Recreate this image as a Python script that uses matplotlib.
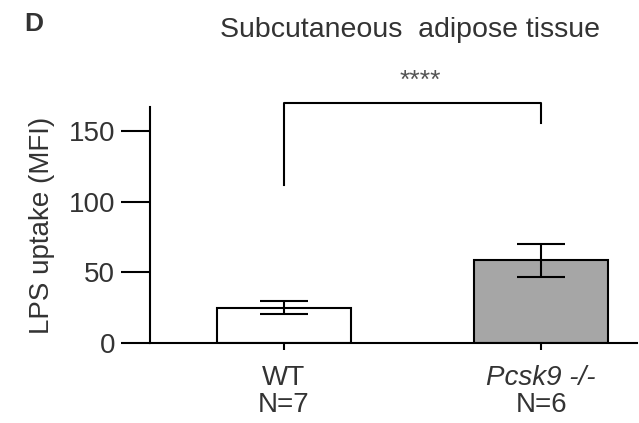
import numpy as np
import matplotlib.pyplot as plt

plt.rcParams['font.family'] = ['Liberation Sans', 'DejaVu Sans']

groups = ['WT', 'Pcsk9 -/-']
n_mice = [7, 6]
means = [25.0, 58.5]
sems = [4.5, 11.7]
bar_colors = ['white', '#a6a6a6']
bracket = (111.7, 170.0, 155.6)   # left foot, top, right foot
stars = '****'

fig = plt.figure(figsize=(6.39, 4.23), dpi=100)
ax = fig.add_axes([0.2347, 0.189, 0.762, 0.558])

x = np.arange(len(groups))
ax.bar(x, means, width=0.52, color=bar_colors, edgecolor='black', linewidth=1.5, zorder=2)
ax.errorbar(x, means, yerr=sems, fmt='none', ecolor='black', elinewidth=1.5,
            capsize=17, capthick=1.5, zorder=3)

ax.set_xlim(-0.519, 1.372)
ax.set_ylim(0, 167)
ax.set_yticks([0, 50, 100, 150])
ax.set_xticks(x)
ax.set_xticklabels([])
for s in ['top', 'right']:
    ax.spines[s].set_visible(False)
for s in ['left', 'bottom']:
    ax.spines[s].set_linewidth(1.5)
ax.tick_params(axis='y', length=21, width=1.5, labelsize=20, pad=4, labelcolor='#333333')
ax.tick_params(axis='x', length=5, width=1.5)
ax.set_ylabel('LPS uptake (MFI)', fontsize=20, color='#333333', labelpad=10)

# group names and sample sizes under the axis
for xi, g, n in zip(x, groups, n_mice):
    ax.annotate(g, (xi, 0), xytext=(0, -16), textcoords='offset points',
                ha='center', va='top', fontsize=20, color='#333333',
                style='normal' if g == 'WT' else 'italic')
    ax.annotate(f'N={n}', (xi, 0), xytext=(0, -35), textcoords='offset points',
                ha='center', va='top', fontsize=20, color='#333333')

# significance bracket
ax.plot([x[0], x[0], x[1], x[1]], [bracket[0], bracket[1], bracket[1], bracket[2]],
        color='black', lw=1.5, clip_on=False)
ax.text(0.53, 185.5, stars, ha='center', va='center', fontsize=19, color='#555555')

fig.text(0.641, 0.929, 'Subcutaneous  adipose tissue', ha='center', va='center',
         fontsize=20.5, color='#333333')
fig.text(0.053, 0.943, 'D', ha='center', va='center', fontsize=19, fontweight='bold',
         color='#333333')

fig.savefig('out.png', dpi=100)
